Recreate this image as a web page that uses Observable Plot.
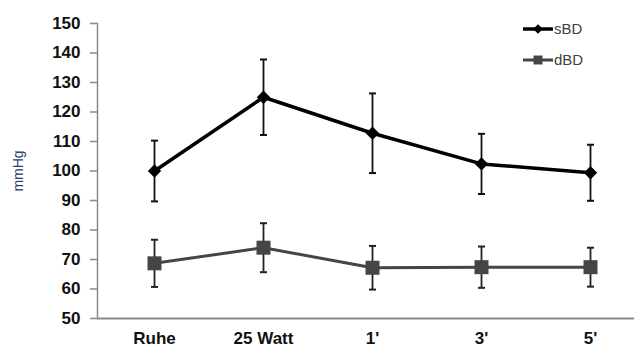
<!DOCTYPE html>
<html>
<head>
<meta charset="utf-8">
<script src="https://cdn.jsdelivr.net/npm/d3@7"></script>
<script src="https://cdn.jsdelivr.net/npm/@observablehq/plot@0.6"></script>
<style>
  html, body { margin: 0; padding: 0; background: #fff; }
  #wrap { position: relative; width: 634px; height: 348px; font-family: "Liberation Sans", Arial, sans-serif; }
  #legend { position: absolute; left: 521px; top: 19px; }
</style>
</head>
<body>
<div id="wrap"><div id="chart"></div><div id="legend"></div></div>
<script>
const categories = ["Ruhe", "25 Watt", "1'", "3'", "5'"];
const seriesNames = ["sBD", "dBD"];
const sBD = [100, 125, 112.8, 102.4, 99.4];
const sBDsd = [10.3, 12.8, 13.5, 10.2, 9.5];
const dBD = [68.7, 74, 67.2, 67.4, 67.4];
const dBDsd = [8, 8.3, 7.4, 7, 6.6];
const yTicks = [50, 60, 70, 80, 90, 100, 110, 120, 130, 140, 150];

const styles = {
  sBD: {color: "#000000", lineWidth: 3.5, symbol: "diamond2", r: 6, barColor: "#111111"},
  dBD: {color: "#454545", lineWidth: 3, symbol: "square", r: 7.9, barColor: "#222222"}
};

const rows = [];
categories.forEach((c, i) => {
  rows.push({series: "sBD", cat: c, v: sBD[i], lo: sBD[i] - sBDsd[i], hi: sBD[i] + sBDsd[i]});
  rows.push({series: "dBD", cat: c, v: dBD[i], lo: dBD[i] - dBDsd[i], hi: dBD[i] + dBDsd[i]});
});

const capSymbol = {
  draw(ctx, size) { const w = 3.5; ctx.moveTo(-w, 0); ctx.lineTo(w, 0); }
};

const marks = [
  Plot.frame({anchor: "left", stroke: "#8a8a8a", strokeWidth: 1.5}),
  Plot.ruleY([50], {stroke: "#8a8a8a", strokeWidth: 2}),
  Plot.axisY({
    ticks: yTicks, tickSize: 7, tickPadding: 10,
    stroke: "#8a8a8a", strokeWidth: 1.5,
    fontSize: 17, fontWeight: "bold", fill: "#111", label: null
  }),
  Plot.axisY({
    ticks: [], label: "mmHg", labelAnchor: "center", labelOffset: 84,
    labelArrow: "none", fontSize: 14, fill: "#2b3f66", tickSize: 0
  }),
  Plot.axisX({
    tickSize: 0, tickPadding: 13, fontSize: 17, fontWeight: "bold", fill: "#111", label: null
  })
];

for (const s of seriesNames) {
  const st = styles[s];
  const data = rows.filter(d => d.series === s);
  marks.push(
    Plot.ruleX(data, {x: "cat", y1: "lo", y2: "hi", stroke: st.barColor, strokeWidth: 1.8}),
    Plot.dot(data, {x: "cat", y: "lo", symbol: capSymbol, stroke: st.barColor, strokeWidth: 2, r: 4}),
    Plot.dot(data, {x: "cat", y: "hi", symbol: capSymbol, stroke: st.barColor, strokeWidth: 2, r: 4}),
    Plot.line(data, {x: "cat", y: "v", stroke: st.color, strokeWidth: st.lineWidth}),
    Plot.dot(data, {x: "cat", y: "v", symbol: st.symbol, fill: st.color, r: st.r, stroke: "none"})
  );
}

const chart = Plot.plot({
  width: 634,
  height: 348,
  marginLeft: 97,
  marginRight: 0,
  marginTop: 23,
  marginBottom: 30,
  style: {fontFamily: "'Liberation Sans', Arial, sans-serif", background: "#fff", overflow: "visible"},
  x: {type: "point", domain: categories, padding: 0.441, align: 0.567},
  y: {domain: [50, 150]},
  marks
});
document.getElementById("chart").appendChild(chart);

// Legend
const lg = d3.select("#legend").append("svg").attr("width", 90).attr("height", 52)
  .style("font-family", "'Liberation Sans', Arial, sans-serif");
seriesNames.forEach((s, i) => {
  const st = styles[s];
  const y = 10 + i * 31;
  lg.append("line").attr("x1", 2).attr("x2", 32).attr("y1", y).attr("y2", y)
    .attr("stroke", st.color).attr("stroke-width", st.lineWidth);
  lg.append("path").attr("transform", `translate(17,${y})`)
    .attr("d", d3.symbol(s === "sBD" ? d3.symbolDiamond2 : d3.symbolSquare, s === "sBD" ? 60 : 80)())
    .attr("fill", st.color);
  lg.append("text").attr("x", 33).attr("y", y).attr("dy", "0.35em")
    .attr("font-size", 15).attr("fill", "#404040").text(s);
});
</script>
</body>
</html>
